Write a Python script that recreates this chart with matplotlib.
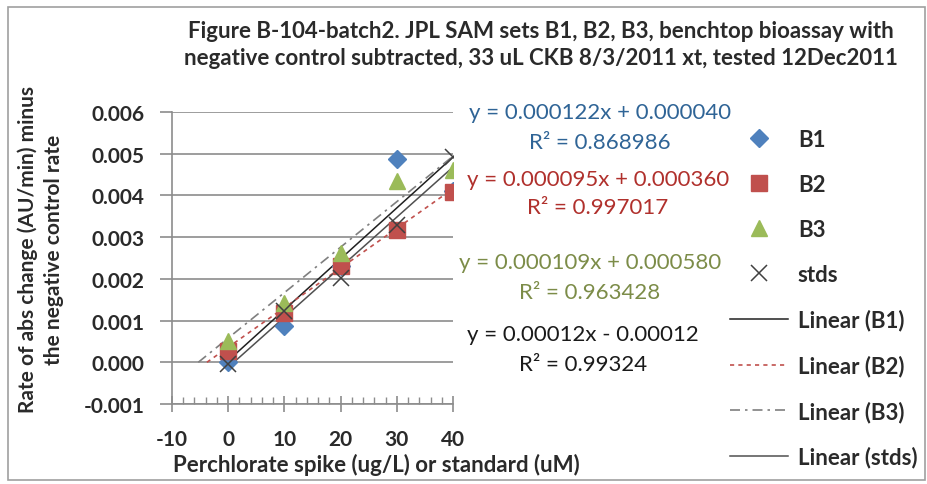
import numpy as np
import matplotlib.pyplot as plt
from matplotlib.lines import Line2D
from matplotlib.patches import Rectangle

plt.rcParams['font.family'] = ['Lato', 'DejaVu Sans']

# spike / standard concentrations
x = [0, 10, 20, 30, 40]

# rates minus negative control
b1 = [0.00000, 0.00088, 0.00230, 0.00487, 0.00410]
b2 = [0.00028, 0.00118, 0.00232, 0.00318, 0.00408]
b3 = [0.00052, 0.00142, 0.00262, 0.00435, 0.00462]
stds = [-0.00005, 0.00122, 0.00201, 0.00330, 0.00491]

# Excel trendline coefficients
slopes = [0.000122, 0.000095, 0.000109, 0.00012]
intercepts = [0.000040, 0.000360, 0.000580, -0.00012]
eq_text = ['y = 0.000122x + 0.000040', 'y = 0.000095x + 0.000360',
           'y = 0.000109x + 0.000580', 'y = 0.00012x - 0.00012']
r2_text = ['R\u00b2 = 0.868986', 'R\u00b2 = 0.997017',
           'R\u00b2 = 0.963428', 'R\u00b2 = 0.99324']

series_names = ['B1', 'B2', 'B3', 'stds']
xticks = [-10, 0, 10, 20, 30, 40]
yticks = [-0.001, 0.000, 0.001, 0.002, 0.003, 0.004, 0.005, 0.006]

W, H = 928, 485
fig = plt.figure(figsize=(W / 100, H / 100), dpi=100)


def fx(px):
    return px / W


def fy(py):
    return 1 - py / H


# chart border
fig.patches.append(Rectangle((fx(8), fy(481)), fx(917), 473 / H, transform=fig.transFigure,
                             fill=False, edgecolor='#a0a0a0', linewidth=1.2))

ax = fig.add_axes([fx(172), fy(405), fx(281), 292 / H])
ax.set_xlim(-10, 40)
ax.set_ylim(-0.001, 0.006)
ax.set_xticks(xticks)
ax.set_yticks(yticks)
ax.set_xticks(np.arange(-10, 41, 2), minor=True)
ax.set_xticklabels([str(t) for t in xticks])
ax.set_yticklabels(['%.3f' % t for t in yticks])
for s in ['top', 'right']:
    ax.spines[s].set_visible(False)
ax.spines['left'].set_color('#8c8c8c')
ax.spines['bottom'].set_color('#8c8c8c')
ax.spines['left'].set_linewidth(1.2)
ax.spines['bottom'].set_linewidth(1.2)
ax.grid(axis='y', color='#8c8c8c', linewidth=1.2)
ax.set_axisbelow(True)
ax.tick_params(axis='y', length=9, color='#8c8c8c', width=1.2, labelsize=15, pad=11)
ax.tick_params(axis='x', which='major', direction='inout', length=12, color='#8c8c8c',
               width=1.2, labelsize=15, pad=12)
ax.tick_params(axis='x', which='minor', direction='in', length=5, color='#8c8c8c', width=1)
for lab in ax.get_xticklabels() + ax.get_yticklabels():
    lab.set_fontweight('bold')
    lab.set_color('#2a2a2a')

# trendlines, drawn from where each crosses zero out to x = 40
line_styles = [dict(color='#202020', ls='-', lw=1.1),
               dict(color='#c0504d', ls=(0, (2.5, 2.5)), lw=1.2),
               dict(color='#7f7f7f', ls=(0, (6, 3, 1.5, 3)), lw=1.2),
               dict(color='#505050', ls='-', lw=1.1)]
for m, b, st in zip(slopes, intercepts, line_styles):
    xs = np.array([-b / m, 40])
    ax.plot(xs, m * xs + b, **st, zorder=2)

ax.plot(x, b1, ls='none', marker='D', ms=9, color='#4f81bd', zorder=3)
ax.plot(x, b2, ls='none', marker='s', ms=11, color='#c0504d', zorder=3)
ax.plot(x, b3, ls='none', marker='^', ms=12, color='#9bbb59', zorder=3)
ax.plot(x, stds, ls='none', marker='x', ms=12, mew=1.1, color='#404040', zorder=4)

ax.set_xlabel('Perchlorate spike (ug/L) or standard (uM)', fontsize=16, fontweight='bold',
              color='#2a2a2a')
ax.xaxis.set_label_coords(fx(376), fy(465), transform=fig.transFigure)
ax.xaxis.label.set_va('center')
ax.set_ylabel('Rate of abs change (AU/min) minus\nthe negative control rate', fontsize=15,
              fontweight='bold', color='#2a2a2a', linespacing=1.35)
ax.yaxis.set_label_coords(fx(41), fy(250), transform=fig.transFigure)
ax.yaxis.label.set_va('center')

fig.text(fx(541), fy(45), 'Figure B-104-batch2. JPL SAM sets B1, B2, B3, benchtop bioassay with\n'
         'negative control subtracted, 33 uL CKB 8/3/2011 xt, tested 12Dec2011',
         ha='center', va='center', fontsize=16, fontweight='bold', color='#2a2a2a',
         linespacing=1.35)

# trendline equations
eq_colors = ['#2f6496', '#b0302c', '#7c8c48', '#1a1a1a']
eq_pos = [(600, 113, 143), (598, 180, 208), (590, 263, 293), (583, 335, 365)]
for t, r, c, (cx, y1, y2) in zip(eq_text, r2_text, eq_colors, eq_pos):
    fig.text(fx(cx), fy(y1), t, ha='center', va='center', fontsize=16, color=c)
    fig.text(fx(cx), fy(y2), r, ha='center', va='center', fontsize=16, color=c)

handles = [Line2D([], [], ls='none', marker='D', ms=9, color='#4f81bd'),
           Line2D([], [], ls='none', marker='s', ms=11, color='#c0504d'),
           Line2D([], [], ls='none', marker='^', ms=12, color='#9bbb59'),
           Line2D([], [], ls='none', marker='x', ms=12, mew=1.1, color='#404040')]
handles += [Line2D([], [], **st) for st in line_styles]
labels = series_names + ['Linear (%s)' % n for n in series_names]
leg = fig.legend(handles, labels, loc='upper left', bbox_to_anchor=(fx(730), fy(130)),
                 frameon=False, fontsize=16, handlelength=2.6, handletextpad=0.45,
                 labelspacing=1.08, borderpad=0, borderaxespad=0)
for t in leg.get_texts():
    t.set_fontweight('bold')
    t.set_color('#2a2a2a')

fig.savefig('out.png', dpi=100)
